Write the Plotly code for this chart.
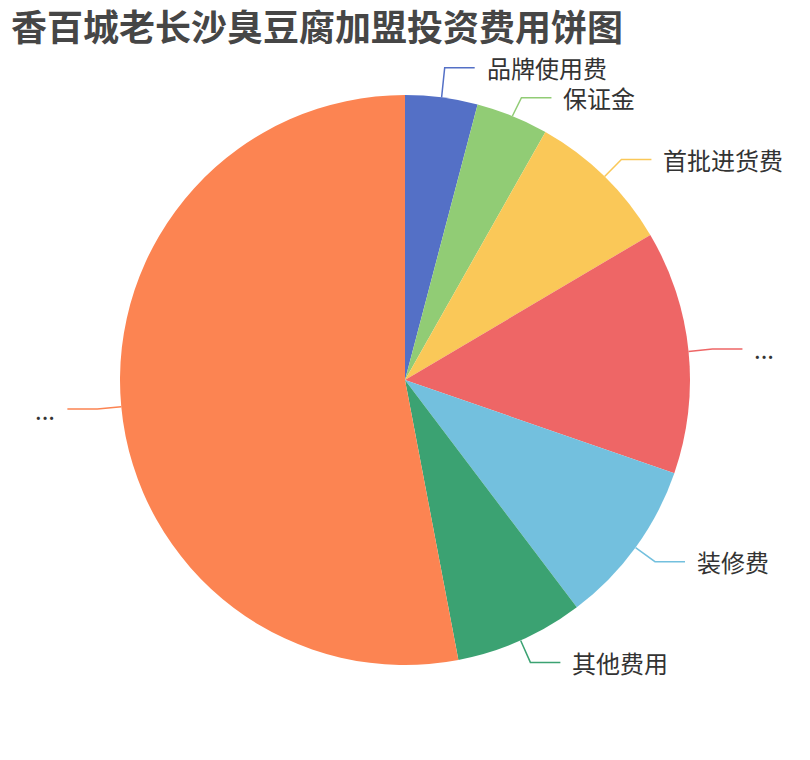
"""
pie chart: franchise investment breakdown
"""

import numpy as np
import plotly.graph_objects as go

###########################
# data
###########################
categories = ["品牌使用费", "保证金", "首批进货费", "...", "装修费", "其他费用", "..."]
values = [4.1, 4.1, 8.3, 13.8, 9.4, 7.3, 53.0]
colors = ['#5470c6', '#91cc75', '#fac858', '#ee6666', '#73c0de', '#3ba272', '#fc8452']
title = "香百城老长沙臭豆腐加盟投资费用饼图"

###########################
# layout (pixels, page coordinates)
###########################
W, H = 810, 760
OFF = 8                      # default body margin of the html page
FW, FH = W - 2 * OFF, H - 2 * OFF
cx, cy, r = 405, 380, 285
line_len = 24   # radial part of the label line
line_len2 = 30  # horizontal part
gap = 30        # min vertical distance between labels
font = "Noto Sans CJK SC"


def px(x):
    return (x - OFF) / FW


def py(y):
    return 1 - (y - OFF) / FH


fig = go.Figure()
fig.add_pie(
    labels=[str(i) for i in range(len(values))],  # unique ids, text drawn separately
    values=values,
    sort=False,
    direction='clockwise',
    rotation=0,
    marker={"colors": colors, "line": {"width": 0}},
    textinfo='none',
    hoverinfo='skip',
    showlegend=False,
    domain={"x": [px(cx - r), px(cx + r)], "y": [py(cy + r), py(cy - r)]},
)

# mid angle of each slice, clockwise from 12 o'clock
vals = np.array(values, dtype=float)
cum = np.cumsum(vals) - vals / 2
theta = cum / vals.sum() * 2 * np.pi
dx, dy = np.sin(theta), -np.cos(theta)

x1, y1 = cx + r * dx, cy + r * dy
x2, y2 = cx + (r + line_len) * dx, cy + (r + line_len) * dy

# push apart labels on the same side
y2 = y2.copy()
for side in (1, -1):
    idx = [i for i in range(len(vals)) if np.sign(dx[i]) == side]
    idx.sort(key=lambda i: y2[i])
    for _ in range(20):
        for a, b in zip(idx[:-1], idx[1:]):
            d = y2[b] - y2[a]
            if d < gap:
                y2[a] -= (gap - d) / 2 + 1
                y2[b] += (gap - d) / 2 - 1

shapes = []
annotations = []
for i in range(len(vals)):
    s = 1 if dx[i] >= 0 else -1
    x3 = x2[i] + s * line_len2
    shapes.append(dict(
        type='path', xref='paper', yref='paper',
        path=f"M {px(x1[i])} {py(y1[i])} L {px(x2[i])} {py(y2[i])} L {px(x3)} {py(y2[i])}",
        line={"color": colors[i], "width": 1.5},
    ))
    annotations.append(dict(
        xref='paper', yref='paper', x=px(x3 + s * 10), y=py(y2[i]),
        text=categories[i], showarrow=False,
        xanchor='left' if s > 0 else 'right', yanchor='middle',
        font={"family": font, "size": 24, "color": '#333333'},
    ))

annotations.append(dict(
    xref='paper', yref='paper', x=px(9), y=py(25),
    text=f"<b>{title}</b>", showarrow=False, xanchor='left', yanchor='middle',
    font={"family": font, "size": 36, "color": '#464646'},
))

fig.update_layout(
    width=FW, height=FH,
    margin={"l": 0, "r": 0, "t": 0, "b": 0},
    paper_bgcolor='white', plot_bgcolor='white',
    shapes=shapes, annotations=annotations,
)

fig.write_html("out.html")
